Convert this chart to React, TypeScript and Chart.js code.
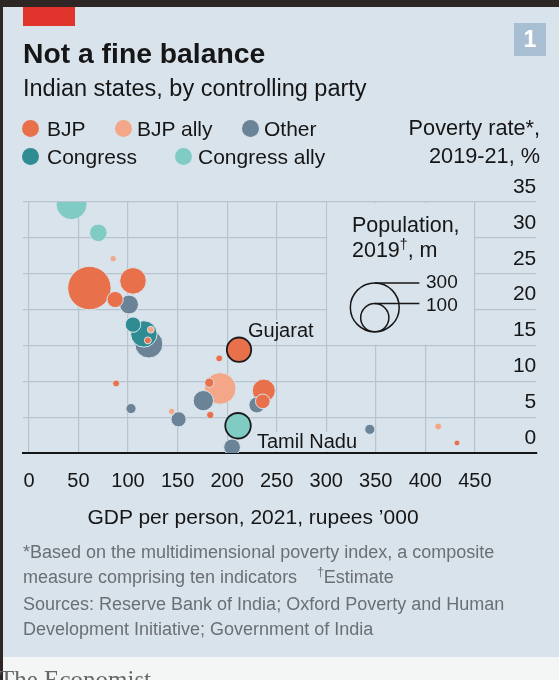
import React, { useEffect, useRef } from "react";
import { Chart, registerables } from "chart.js";

Chart.register(...registerables);

const FONT = '"Liberation Sans", Arial, sans-serif';
const BG = "#d9e3ec";
const GRID = "#b7c4cf";
const INK = "#161616";

// Parties and their colours
const parties = ["BJP", "BJP ally", "Other", "Congress", "Congress ally"];
const partyColors = ["#e8714b", "#f3a688", "#6a8397", "#2f8c93", "#80cbc3"];

// One entry per state
const states = [
  "Bihar", "Jharkhand", "Meghalaya", "Uttar Pradesh", "Madhya Pradesh",
  "Assam", "Odisha", "Chhattisgarh", "Rajasthan", "West Bengal",
  "Nagaland", "Manipur", "Tripura", "Jammu & Kashmir", "Mizoram",
  "Punjab", "Arunachal Pradesh", "Gujarat", "Maharashtra", "Uttarakhand",
  "Andhra Pradesh", "Himachal Pradesh", "Tamil Nadu", "Kerala", "Karnataka",
  "Telangana", "Haryana", "Delhi", "Sikkim", "Goa",
];
const stateParty = [
  "Congress ally", "Congress ally", "BJP ally", "BJP", "BJP",
  "BJP", "Other", "Congress", "Congress", "Other",
  "BJP ally", "BJP", "BJP", "Other", "BJP ally",
  "Other", "BJP", "BJP", "BJP ally", "BJP",
  "Other", "BJP", "Congress ally", "Other", "BJP",
  "Other", "BJP", "Other", "BJP ally", "BJP",
];
// GDP per person, 2021, rupees '000
const gdpPerPerson = [
  43, 70, 85, 61, 105,
  87, 101, 105, 116, 121,
  123, 120, 88, 103, 144,
  151, 192, 212, 193, 182,
  176, 183, 211, 205, 237,
  230, 236, 344, 413, 432,
];
// Poverty rate, 2019-21, %
const povertyRate = [
  34.7, 30.7, 27.1, 23.0, 24.0,
  21.4, 20.7, 17.9, 16.6, 15.2,
  17.2, 15.7, 9.7, 6.2, 5.8,
  4.7, 13.2, 14.4, 9.0, 9.8,
  7.3, 5.3, 3.8, 0.8, 8.7,
  6.7, 7.2, 3.3, 3.7, 1.4,
];
// Population, 2019, m
const population = [
  121, 39, 5, 237, 89,
  33, 45, 30, 88, 99,
  6, 6, 6, 13, 5,
  29, 6, 75, 126, 11,
  52, 7, 82, 35, 67,
  32, 27, 13, 6, 4.5,
];
const highlighted = ["Gujarat", "Tamil Nadu"];

const xTicks = [0, 50, 100, 150, 200, 250, 300, 350, 400, 450];
const yTicks = [0, 5, 10, 15, 20, 25, 30, 35];
const popLegend = [300, 100];

const K = 1.41; // px per sqrt(million)
const rad = (p: number) => K * Math.sqrt(p);

const yLabelPlugin = {
  id: "yLabels",
  afterDraw(chart: any) {
    const { ctx, chartArea, scales } = chart;
    const y = scales.y;
    ctx.save();
    ctx.font = `21px ${FONT}`;
    ctx.fillStyle = INK;
    ctx.textAlign = "right";
    ctx.textBaseline = "middle";
    y.ticks.forEach((t: any) => {
      ctx.fillText(String(t.value), chartArea.right, y.getPixelForValue(t.value) - 15);
    });
    ctx.restore();
  },
};

const popBoxPlugin = {
  id: "popBox",
  beforeDatasetsDraw(chart: any) {
    const { ctx, scales } = chart;
    const { x, y } = scales;
    const x1 = x.getPixelForValue(300) + 1;
    const x2 = x.getPixelForValue(450) - 1;
    const y1 = y.getPixelForValue(35) + 1;
    const y2 = y.getPixelForValue(15) - 1;
    ctx.save();
    ctx.fillStyle = BG;
    ctx.fillRect(x1, y1, x2 - x1, y2 - y1);
    ctx.restore();
  },
  afterDatasetsDraw(chart: any) {
    const { ctx, scales } = chart;
    const { x, y } = scales;
    const cx = x.getPixelForValue(349);
    const bottom = y.getPixelForValue(16.9);
    const lineEnd = x.getPixelForValue(394);
    ctx.save();
    ctx.strokeStyle = INK;
    ctx.lineWidth = 1.5;
    popLegend.forEach((p) => {
      const r = rad(p);
      ctx.beginPath();
      ctx.arc(cx, bottom - r, r, 0, Math.PI * 2);
      ctx.stroke();
      ctx.beginPath();
      ctx.moveTo(cx, bottom - 2 * r);
      ctx.lineTo(lineEnd, bottom - 2 * r);
      ctx.stroke();
    });
    ctx.restore();
  },
};

type TProps = {
  x: number;
  y: number;
  size: number;
  children: React.ReactNode;
  weight?: number | string;
  color?: string;
  align?: "left" | "right" | "center";
  family?: string;
  bg?: string;
  lh?: number;
};

function T({ x, y, size, children, weight = 400, color = INK, align = "left", family = FONT, bg, lh }: TProps) {
  const lineH = lh ?? Math.round(size * 1.2);
  const style: React.CSSProperties = {
    position: "absolute",
    top: y - lineH / 2,
    fontFamily: family,
    fontSize: size,
    fontWeight: weight as any,
    color,
    lineHeight: `${lineH}px`,
    whiteSpace: "nowrap",
    background: bg,
  };
  if (align === "left") style.left = x;
  else if (align === "right") style.right = 559 - x;
  else {
    style.left = x;
    style.transform = "translateX(-50%)";
  }
  return <div style={style}>{children}</div>;
}

function Dot({ x, y, color }: { x: number; y: number; color: string }) {
  return (
    <div
      style={{
        position: "absolute",
        left: x - 8.5,
        top: y - 8.5,
        width: 17,
        height: 17,
        borderRadius: "50%",
        background: color,
      }}
    />
  );
}

export default function App() {
  const ref = useRef<HTMLCanvasElement | null>(null);

  useEffect(() => {
    if (!ref.current) return;
    const order = states.map((_, i) => i).sort((a, b) => population[b] - population[a]);
    const data = order.map((i) => ({
      x: gdpPerPerson[i],
      y: povertyRate[i],
      r: rad(population[i]),
      i,
    }));
    const chart = new Chart(ref.current, {
      type: "bubble",
      data: {
        datasets: [
          {
            data,
            backgroundColor: (c: any) => partyColors[parties.indexOf(stateParty[c.raw.i])],
            borderColor: (c: any) => (highlighted.includes(states[c.raw.i]) ? "#1b1b1b" : BG),
            borderWidth: (c: any) => (highlighted.includes(states[c.raw.i]) ? 1.8 : 1),
          } as any,
        ],
      },
      options: {
        animation: false,
        responsive: false,
        maintainAspectRatio: false,
        devicePixelRatio: 1,
        events: [],
        layout: { padding: { left: 23, right: 19, top: 202, bottom: 171 } },
        plugins: { legend: { display: false }, tooltip: { enabled: false } },
        scales: {
          x: {
            type: "linear",
            min: -6,
            max: 512,
            afterBuildTicks: (s: any) => {
              s.ticks = xTicks.map((v) => ({ value: v }));
            },
            grid: { color: GRID, lineWidth: 1.2, drawTicks: false },
            border: { display: true, color: INK, width: 2 },
            ticks: {
              padding: 16,
              color: INK,
              font: { family: FONT, size: 20 },
              maxRotation: 0,
              autoSkip: false,
            },
          },
          y: {
            type: "linear",
            position: "right",
            min: 0,
            max: 35,
            afterBuildTicks: (s: any) => {
              s.ticks = yTicks.map((v) => ({ value: v }));
            },
            grid: { color: GRID, lineWidth: 1.2, drawTicks: false },
            border: { display: false },
            ticks: { display: false },
          },
        },
      } as any,
      plugins: [popBoxPlugin, yLabelPlugin],
    });
    return () => chart.destroy();
  }, []);

  const pc = (p: string) => partyColors[parties.indexOf(p)];

  return (
    <div
      style={{
        position: "absolute",
        left: 0,
        top: 0,
        width: 559,
        height: 680,
        overflow: "hidden",
        background: "#f4f5f5",
      }}
    >
      <div style={{ position: "absolute", left: 3, top: 7, width: 556, height: 650, background: BG }} />
      <div style={{ position: "absolute", left: 0, top: 0, width: 559, height: 7, background: "#2d2624" }} />
      <div style={{ position: "absolute", left: 0, top: 0, width: 3, height: 680, background: "#2d2624" }} />
      <div style={{ position: "absolute", left: 23, top: 7, width: 52, height: 19, background: "#e0342c" }} />
      <div
        style={{
          position: "absolute",
          left: 514,
          top: 23,
          width: 32,
          height: 33,
          background: "#a8bfd3",
          color: "#fff",
          fontFamily: FONT,
          fontWeight: 700,
          fontSize: 23,
          lineHeight: "33px",
          textAlign: "center",
        }}
      >
        1
      </div>

      <canvas
        ref={ref}
        width={559}
        height={680}
        style={{ position: "absolute", left: 0, top: 0, width: 559, height: 680 }}
      />

      <T x={23} y={53} size={28.3} weight={700}>Not a fine balance</T>
      <T x={23} y={88} size={23.5}>Indian states, by controlling party</T>

      <Dot x={30} y={128} color={pc("BJP")} />
      <T x={47} y={128} size={21}>BJP</T>
      <Dot x={123} y={128} color={pc("BJP ally")} />
      <T x={137} y={128} size={21}>BJP ally</T>
      <Dot x={250} y={128} color={pc("Other")} />
      <T x={264} y={128} size={21}>Other</T>
      <Dot x={30} y={156} color={pc("Congress")} />
      <T x={47} y={156} size={21}>Congress</T>
      <Dot x={183} y={156} color={pc("Congress ally")} />
      <T x={198} y={156} size={21}>Congress ally</T>

      <T x={540} y={128} size={21.7} align="right">Poverty rate*,</T>
      <T x={540} y={156} size={21.7} align="right">2019-21, %</T>

      <T x={352} y={225} size={21.5}>Population,</T>
      <T x={352} y={250} size={21.5}>
        2019<sup style={{ fontSize: 14, lineHeight: 0 }}>†</sup>, m
      </T>
      <T x={426} y={281} size={19}>300</T>
      <T x={426} y={304} size={19}>100</T>

      <T x={248} y={330} size={20} bg={BG} lh={20}>Gujarat</T>
      <T x={257} y={441} size={20} bg={BG} lh={19}>Tamil Nadu</T>

      <T x={253} y={516} size={21} align="center">GDP per person, 2021, rupees ’000</T>

      <T x={23} y={552} size={18} color="#6a6f74">*Based on the multidimensional poverty index, a composite</T>
      <T x={23} y={577} size={18} color="#6a6f74">
        measure comprising ten indicators&nbsp;&nbsp;&nbsp;&nbsp;<sup style={{ fontSize: 12, lineHeight: 0 }}>†</sup>Estimate
      </T>
      <T x={23} y={604} size={18} color="#6a6f74">Sources: Reserve Bank of India; Oxford Poverty and Human</T>
      <T x={23} y={629} size={18} color="#6a6f74">Development Initiative; Government of India</T>

      <T x={-1} y={680} size={25} color="#666" family='"Liberation Serif", "DejaVu Serif", serif'>
        The Economist
      </T>
    </div>
  );
}
